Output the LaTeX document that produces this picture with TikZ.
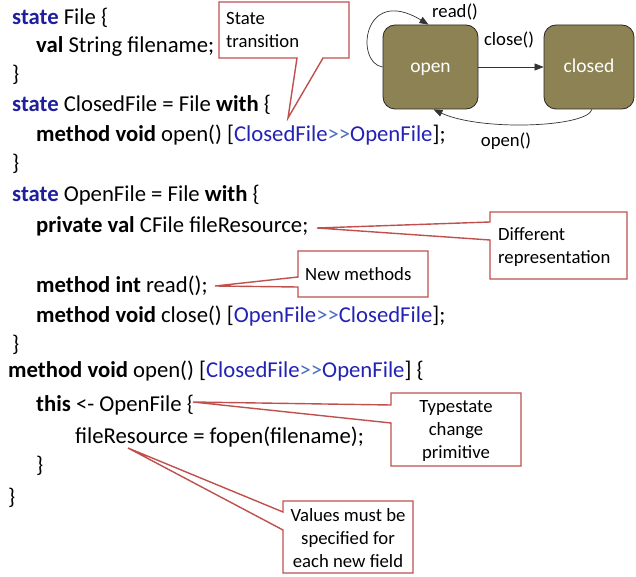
\documentclass[tikz,border=0pt]{standalone}
\usepackage{fontspec}
\setmainfont{Carlito}
\usetikzlibrary{arrows.meta,calc}
\definecolor{kwblue}{HTML}{1F1F9E}
\definecolor{tyblue}{HTML}{2222B4}
\definecolor{opblue}{HTML}{4A6FC0}
\definecolor{callred}{HTML}{C0504D}
\definecolor{olivebox}{HTML}{8C8253}
% keywords, state keyword and typestate annotations
\newcommand{\kw}[1]{\textbf{#1}}
\newcommand{\stkw}[1]{\textcolor{kwblue}{\textbf{#1}}}
\newcommand{\tstate}[2]{\textcolor{tyblue}{#1}\textcolor{opblue}{{>}\kern0pt{>}}\textcolor{tyblue}{#2}}
\begin{document}
\begin{tikzpicture}[x=1pt,y=-1pt,
  code/.style={anchor=base west, inner sep=0pt, font=\fontsize{22.7}{26}\selectfont},
  calloutshape/.style={draw=callred, line width=1.4pt, fill=white, line join=miter},
  callouttext/.style={inner sep=0pt, font=\fontsize{18.7}{23}\selectfont},
  statebox/.style={draw=black!85, line width=0.8pt, fill=olivebox, rounded corners=12pt,
    minimum height=84pt, text=white, text height=11pt, text depth=0pt,
    font=\fontsize{19.5}{21}\selectfont},
  trans/.style={line width=0.7pt, draw=black!80, -{Triangle[length=9pt,width=7pt]}},
  translabel/.style={inner sep=0pt, font=\fontsize{18.7}{20}\selectfont}]
\useasboundingbox (0,0) rectangle (636,577);

% ---- source code ----
\node[code] (l1)  at (12,25)  {\stkw{state} File \{};
\node[code] (l2)  at (36,53)  {\kw{val} String filename;};
\node[code] (l3)  at (12,82)  {\}};
\node[code] (l4)  at (12,112) {\stkw{state} ClosedFile = File \kw{with} \{};
\node[code] (l5)  at (36,142) {\kw{method void} open() [\tstate{ClosedFile}{OpenFile}];};
\node[code] (l6)  at (12,171) {\}};
\node[code] (l7)  at (12,202) {\stkw{state} OpenFile = File \kw{with} \{};
\node[code] (l8)  at (36,232) {\kw{private val} CFile fileResource;};
\node[code] (l9)  at (36,292) {\kw{method int} read();};
\node[code] (l10) at (36,322) {\kw{method void} close() [\tstate{OpenFile}{ClosedFile}];};
\node[code] (l11) at (12,351) {\}};
\node[code] (l12) at (8,377)  {\kw{method void} open() [\tstate{ClosedFile}{OpenFile}] \{};
\node[code] (l13) at (36,411) {\kw{this} <- OpenFile \{};
\node[code] (l14) at (75,443) {fileResource = fopen(filename);};
\node[code] (l15) at (36,472) {\}};
\node[code] (l16) at (8,504)  {\}};

% ---- callouts ----
\draw[calloutshape] (219,2) -- (349,2) -- (349,58) -- (323,58) -- (288,118) -- (297,58) -- (219,58) -- cycle;
\node[callouttext, anchor=north west, align=left] (c1) at (226,12) {State\\transition};

\draw[calloutshape] (490,212) -- (627,212) -- (627,279) -- (490,279) -- (490,240) -- (317,228) -- (490,222) -- cycle;
\node[callouttext, anchor=north west, align=left] (c2) at (498,227) {Different\\representation};

\draw[calloutshape] (298,251) -- (428,251) -- (428,297) -- (298,297) -- (298,287) -- (215,286) -- (298,277) -- cycle;
\node[callouttext, anchor=north west, align=left] (c3) at (305,267) {New methods};

\draw[calloutshape] (391,393) -- (521,393) -- (521,466) -- (391,466) -- (391,423) -- (193,402) -- (391,405) -- cycle;
\node[callouttext, anchor=center, align=center] (c4) at (456,431) {Typestate\\change\\primitive};

\draw[calloutshape] (283,501) -- (413,501) -- (413,573) -- (283,573) -- (283,530) -- (128,448) -- (283,512) -- cycle;
\node[callouttext, anchor=center, align=center] (c5) at (348,538) {Values must be\\specified for\\each new field};

% ---- state machine ----
\node[statebox, minimum width=95pt] (open) at (430.5,67) {open};
\node[statebox, minimum width=90pt] (closed) at (589,67) {closed};

\draw[trans] (open.east) -- (closed.west);
\node[translabel] (lclose) at (509,40) {close()};

\draw[trans] ($(closed.south)+(3,0)$) .. controls ($(closed.south)+(-2,18)$) and ($(open.south)+(50,22)$) .. ($(open.south)+(3,0)$);
\node[translabel] (lopen) at (506,141) {open()};

\draw[trans] (open.west) .. controls ($(open.west)+(-28,-4)$) and ($(open.north)+(-68,-40)$) .. ($(open.north)+(-2,0)$);
\node[translabel] (lread) at (455,12) {read()};
\end{tikzpicture}
\end{document}
